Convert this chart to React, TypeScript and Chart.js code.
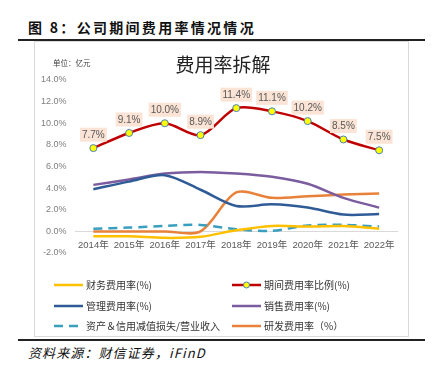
import React, { useEffect, useRef } from "react";
import { Chart, registerables } from "chart.js";

Chart.register(...registerables);

const categories = ["2014年", "2015年", "2016年", "2017年", "2018年", "2019年", "2020年", "2021年", "2022年"];
const periodRate = [7.7, 9.1, 10.0, 8.9, 11.4, 11.1, 10.2, 8.5, 7.5];
const financeRate = [-0.45, -0.45, -0.6, -0.5, 0.1, 0.5, 0.45, 0.5, 0.25];
const adminRate = [3.9, 4.6, 5.2, 3.85, 2.35, 2.5, 2.2, 1.55, 1.6];
const salesRate = [4.3, 4.8, 5.35, 5.5, 5.35, 5.05, 4.4, 3.1, 2.2];
const impairmentRate = [0.25, 0.35, 0.5, 0.6, 0.2, 0.05, 0.55, 0.6, 0.45];
const rdRate = [0, 0, 0, 0, 3.6, 3.1, 3.25, 3.4, 3.5];
const yTicks = [-2, 0, 2, 4, 6, 8, 10, 12, 14];

const legendNames = [
  "财务费用率(%)",
  "期间费用率比例(%)",
  "管理费用率(%)",
  "销售费用率(%)",
  "资产＆信用减值损失/营业收入",
  "研发费用率（%）",
];

const C = {
  yellow: "#FFC000",
  red: "#C00000",
  blue: "#2F5C97",
  purple: "#7B5C9E",
  teal: "#3A9FBE",
  orange: "#E8823A",
};

const FONT = "Arial, 'Liberation Sans', 'Noto Sans CJK SC', sans-serif";
const CJK = "'Noto Sans CJK SC', sans-serif";

const labelPlugin = {
  id: "redLabels",
  afterDatasetsDraw(chart: any) {
    const meta = chart.getDatasetMeta(0);
    const ctx = chart.ctx;
    ctx.save();
    ctx.font = "10px " + FONT;
    ctx.textAlign = "center";
    ctx.textBaseline = "middle";
    meta.data.forEach((pt: any, i: number) => {
      const txt = periodRate[i].toFixed(1) + "%";
      const w = ctx.measureText(txt).width + 4;
      const h = 14;
      const cx = pt.x;
      const cy = pt.y - 13.5;
      ctx.fillStyle = "#FBE4D5";
      ctx.fillRect(cx - w / 2, cy - h / 2, w, h);
      ctx.fillStyle = "#595959";
      ctx.fillText(txt, cx, cy + 0.5);
    });
    ctx.restore();
  },
};

const legendPlugin = {
  id: "customLegend",
  afterDraw(chart: any) {
    const ctx = chart.ctx;
    const rows = [243, 264, 284];
    const cols = [19, 197];
    const items = [
      { color: C.yellow, dash: null, marker: false },
      { color: C.red, dash: null, marker: true },
      { color: C.blue, dash: null, marker: false },
      { color: C.purple, dash: null, marker: false },
      { color: C.teal, dash: [9, 6], marker: false },
      { color: C.orange, dash: null, marker: false },
    ];
    ctx.save();
    items.forEach((it, i) => {
      const x = cols[i % 2];
      const y = rows[Math.floor(i / 2)];
      ctx.beginPath();
      ctx.strokeStyle = it.color;
      ctx.lineWidth = 2.5;
      ctx.setLineDash(it.dash ? it.dash : []);
      ctx.moveTo(x, y);
      ctx.lineTo(x + 29, y);
      ctx.stroke();
      ctx.setLineDash([]);
      if (it.marker) {
        ctx.beginPath();
        ctx.arc(x + 14.5, y, 3, 0, Math.PI * 2);
        ctx.fillStyle = "#FFFF00";
        ctx.fill();
        ctx.lineWidth = 1;
        ctx.strokeStyle = "#4A7EBB";
        ctx.stroke();
      }
      ctx.fillStyle = "#333333";
      ctx.font = "10px " + CJK;
      ctx.textAlign = "left";
      ctx.textBaseline = "middle";
      ctx.fillText(legendNames[i], x + 32, y + 0.5);
    });
    ctx.restore();
  },
};

function ChartBox() {
  const ref = useRef<HTMLCanvasElement | null>(null);
  useEffect(() => {
    if (!ref.current) return;
    const chart = new Chart(ref.current, {
      type: "line",
      data: {
        labels: categories,
        datasets: [
          {
            label: legendNames[1],
            data: periodRate,
            borderColor: C.red,
            borderWidth: 2.5,
            pointRadius: 3.5,
            pointBackgroundColor: "#FFFF00",
            pointBorderColor: "#4A7EBB",
            pointBorderWidth: 1,
            tension: 0.3,
          },
          { label: legendNames[0], data: financeRate, borderColor: C.yellow, borderWidth: 2.5, pointRadius: 0, tension: 0.3 },
          { label: legendNames[2], data: adminRate, borderColor: C.blue, borderWidth: 2.5, pointRadius: 0, tension: 0.3 },
          { label: legendNames[3], data: salesRate, borderColor: C.purple, borderWidth: 2.5, pointRadius: 0, tension: 0.3 },
          { label: legendNames[4], data: impairmentRate, borderColor: C.teal, borderWidth: 2.5, borderDash: [9, 6], pointRadius: 0, tension: 0.3 },
          { label: legendNames[5], data: rdRate, borderColor: C.orange, borderWidth: 2.5, pointRadius: 0, tension: 0.3 },
        ],
      },
      options: {
        animation: false,
        responsive: false,
        maintainAspectRatio: false,
        layout: { padding: { left: 0, right: 10, top: 38, bottom: 82 } },
        plugins: { legend: { display: false }, tooltip: { enabled: false }, title: { display: false } },
        scales: {
          x: {
            position: { y: 0 } as any,
            offset: true,
            grid: { display: false, drawTicks: false },
            border: { display: true, color: "#D9D9D9", width: 1 },
            ticks: { color: "#595959", font: { size: 9.5, family: FONT }, padding: 8, maxRotation: 0, autoSkip: false },
          },
          y: {
            min: -2,
            max: 14,
            afterFit: (s: any) => { s.width = 40.5; },
            afterBuildTicks: (s: any) => { s.ticks = yTicks.map((v) => ({ value: v })); },
            grid: { display: false, drawTicks: false },
            border: { display: false },
            ticks: {
              color: "#7F7F7F",
              font: { size: 9, family: FONT },
              padding: 9,
              callback: (v: any) => Number(v).toFixed(1) + "%",
            },
          },
        },
      },
      plugins: [labelPlugin, legendPlugin],
    });
    return () => chart.destroy();
  }, []);
  return <canvas ref={ref} width={372} height={293} style={{ position: "absolute", left: 35, top: 42, width: 372, height: 293 }} />;
}

export default function App() {
  return (
    <div style={{ position: "fixed", left: 0, top: 0, width: 434, height: 375, background: "#fff", overflow: "hidden" }}>
      <div style={{ position: "absolute", left: 28, top: 17, fontFamily: CJK, fontWeight: 700, fontSize: 14, letterSpacing: 2.3, color: "#111", whiteSpace: "nowrap", lineHeight: "20px" }}>
        图 8：公司期间费用率情况情况
      </div>
      <div style={{ position: "absolute", left: 18, top: 39, width: 407, height: 1.6, background: "#222" }} />
      <div style={{ position: "absolute", left: 34, top: 41, width: 373, height: 294, border: "1px solid #D9D9D9" }} />
      <ChartBox />
      <div style={{ position: "absolute", left: 53, top: 58, fontFamily: CJK, fontSize: 7.5, color: "#404040", whiteSpace: "nowrap", lineHeight: "10px" }}>
        单位：亿元
      </div>
      <div style={{ position: "absolute", left: 173, top: 51, width: 100, textAlign: "center", fontFamily: CJK, fontSize: 19, color: "#222", whiteSpace: "nowrap", lineHeight: "26px" }}>
        费用率拆解
      </div>
      <div style={{ position: "absolute", left: 18, top: 339, width: 407, height: 1.6, background: "#222" }} />
      <div style={{ position: "absolute", left: 28, top: 344, fontFamily: CJK, fontStyle: "italic", fontSize: 13, letterSpacing: 1.1, color: "#111", whiteSpace: "nowrap", lineHeight: "18px" }}>
        资料来源：财信证券，iFinD
      </div>
    </div>
  );
}
